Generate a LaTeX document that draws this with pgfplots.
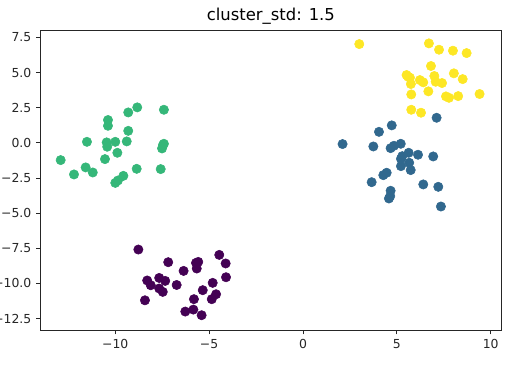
\documentclass[border=0pt]{standalone}
\usepackage{pgfplots}
\pgfplotsset{compat=1.18}
\usepackage{fontspec}
\setmainfont{DejaVu Sans}
\definecolor{vpurple}{HTML}{440154}
\definecolor{vblue}{HTML}{31688E}
\definecolor{vgreen}{HTML}{35B779}
\definecolor{vyellow}{HTML}{FDE725}
\begin{document}
\begin{tikzpicture}
\begin{axis}[
  width=346pt, height=225pt, scale only axis,
  xmin=-14.01, xmax=10.59, ymin=-13.33, ymax=8.02,
  xtick={-10,-5,0,5,10},
  xticklabels={−10,−5,0,5,10},
  ytick={7.5,5,2.5,0,-2.5,-5,-7.5,-10,-12.5},
  yticklabels={7.5,5.0,2.5,0.0,−2.5,−5.0,−7.5,−10.0,−12.5},
  tick align=outside, xtick pos=left, ytick pos=left,
  major tick length=3pt,
  tick style={black!85, line width=0.6pt},
  axis line style={black!85, line width=0.6pt},
  ticklabel style={font=\fontsize{9.3}{11}\selectfont, text=black!85},
  title={cluster\_std: 1.5},
  title style={font=\fontsize{12.3}{14}\selectfont, yshift=-5pt},
  every axis plot/.append style={only marks, mark=*, mark size=3.5pt},
]
% purple
\addplot[vpurple, mark options={draw=vpurple, fill=vpurple}] coordinates {
(-8.77,-7.59) (-7.18,-8.49) (-5.70,-8.54) (-5.58,-8.47) (-5.66,-8.94)
(-4.46,-7.97) (-4.12,-8.58) (-4.10,-9.56) (-6.36,-9.11) (-6.73,-10.11)
(-8.30,-9.79) (-8.11,-10.13) (-7.66,-9.61) (-7.34,-9.82) (-7.66,-10.36)
(-7.47,-10.60) (-8.42,-11.20) (-5.34,-10.48) (-4.81,-9.96) (-4.63,-10.77)
(-4.86,-11.12) (-5.81,-11.12) (-6.27,-12.00) (-5.84,-11.86) (-5.40,-12.26)
};
% blue
\addplot[vblue, mark options={draw=vblue, fill=vblue}] coordinates {
(7.12,1.78) (4.73,1.24) (4.05,0.78) (2.11,-0.09) (3.75,-0.26)
(4.67,-0.38) (4.85,-0.21) (5.21,-0.07) (5.63,-0.71) (6.13,-0.85)
(6.94,-0.97) (5.22,-1.14) (5.66,-1.42) (5.22,-1.66) (5.74,-1.94)
(4.28,-2.30) (4.46,-2.13) (3.66,-2.80) (6.41,-2.96) (7.21,-3.13)
(4.67,-3.41) (4.58,-3.96) (7.35,-4.53) (5.29,-0.95) (4.65,-3.79)
};
% green
\addplot[vgreen, mark options={draw=vgreen, fill=vgreen}] coordinates {
(-12.91,-1.23) (-12.20,-2.25) (-11.58,-1.75) (-11.20,-2.11) (-11.51,0.07)
(-10.55,-1.16) (-10.39,1.62) (-10.39,1.21) (-10.46,0.03) (-10.43,-0.28)
(-10.00,0.07) (-9.89,-0.71) (-10.00,-2.85) (-9.86,-2.68) (-9.57,-2.35)
(-9.31,2.16) (-8.83,2.52) (-9.31,0.85) (-9.39,0.10) (-8.86,-1.85)
(-7.41,2.35) (-7.41,-0.07) (-7.51,-0.40) (-7.58,-1.87) (-7.46,-0.16)
};
% yellow
\addplot[vyellow, mark options={draw=vyellow, fill=vyellow}] coordinates {
(3.00,7.02) (6.71,7.07) (7.25,6.62) (7.99,6.55) (8.72,6.38)
(6.82,5.46) (5.52,4.82) (5.70,4.63) (5.75,4.18) (6.23,4.46)
(6.41,4.30) (7.00,4.75) (7.07,4.34) (7.41,4.25) (8.04,4.94)
(8.51,4.53) (5.77,3.44) (6.68,3.66) (7.62,3.30) (7.78,3.20)
(8.27,3.32) (9.41,3.47) (5.77,2.35) (6.29,2.14) (5.60,4.70)
};
\end{axis}
\pgfresetboundingbox
\path ([xshift=-30pt,yshift=-31.5pt]current axis.south west) rectangle ([xshift=7.7pt,yshift=22.5pt]current axis.north east);
\end{tikzpicture}
\end{document}
